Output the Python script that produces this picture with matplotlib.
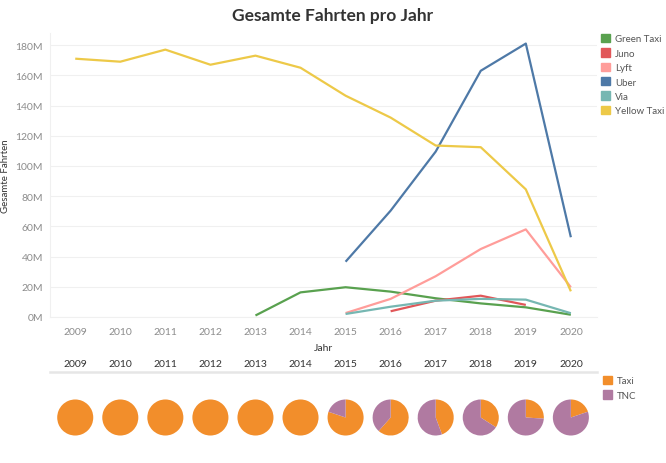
import numpy as np
import matplotlib
matplotlib.use("Agg")
import matplotlib.pyplot as plt
from matplotlib.patches import Patch

plt.rcParams['font.family'] = ['Lato', 'DejaVu Sans']

years = list(range(2009, 2021))
nan = np.nan
# Gesamte Fahrten in Mio.
green_taxi = [nan, nan, nan, nan, 1.0, 16.3, 19.7, 16.8, 12.4, 9.0, 6.4, 1.5]
juno = [nan, nan, nan, nan, nan, nan, nan, 3.8, 10.8, 14.1, 8.0, nan]
lyft = [nan, nan, nan, nan, nan, nan, 2.6, 12.0, 27.0, 45.0, 58.0, 19.7]
uber = [nan, nan, nan, nan, nan, nan, 36.6, 70.4, 109.5, 163.0, 181.0, 52.8]
via = [nan, nan, nan, nan, nan, nan, 2.0, 6.8, 10.8, 12.0, 11.5, 2.5]
yellow_taxi = [171, 169, 177, 167, 173, 165, 146.5, 132, 113.5, 112.4, 84.5, 17.0]

series = ["Green Taxi", "Juno", "Lyft", "Uber", "Via", "Yellow Taxi"]
colors = ["#59a14f", "#e15759", "#ff9d9a", "#4e79a7", "#76b7b2", "#edc948"]
values = [green_taxi, juno, lyft, uber, via, yellow_taxi]

taxi = np.nansum([yellow_taxi, green_taxi], axis=0)
tnc = np.nansum([uber, lyft, via, juno], axis=0)

fig = plt.figure(figsize=(6.66, 4.64), dpi=100)
W, H = 666, 464
x0, x1 = 50, 597
ax = fig.add_axes([x0 / W, 1 - 318 / H, (x1 - x0) / W, (318 - 34) / H])

for name, c, v in zip(series, colors, values):
    ax.plot(years, v, color=c, lw=1.6, label=name, solid_capstyle='butt')

xlim = (2008.44, 2020.58)
ax.set_xlim(*xlim)
ax.set_ylim(0, 188)
ax.set_yticks(range(0, 181, 20))
ax.set_yticklabels([f"{t}M" for t in range(0, 181, 20)])
ax.set_xticks(years)
ax.set_xticklabels([str(y) for y in years])
ax.tick_params(axis='both', length=0, labelsize=7.5, labelcolor='#8c8c8c')
ax.tick_params(axis='x', pad=7)
ax.tick_params(axis='y', pad=5)
ax.grid(axis='y', color='#f0f0f0', lw=0.8)
ax.set_axisbelow(True)
for s in ['top', 'right']:
    ax.spines[s].set_visible(False)
for s in ['left', 'bottom']:
    ax.spines[s].set_color('#f0f0f0')
ax.set_xlabel("Jahr", fontsize=7.5, color='#333333', labelpad=5)
ax.set_ylabel("Gesamte Fahrten", fontsize=7, color='#333333')
ax.yaxis.set_label_coords(-40 / (x1 - x0), 0.5)

fig.text(0.5, 1 - 16 / H, "Gesamte Fahrten pro Jahr", ha='center', va='center',
         fontsize=12.5, fontweight='bold', color='#333333')

handles = [Patch(color=c, label=n) for n, c in zip(series, colors)]
fig.legend(handles=handles, loc='upper left', bbox_to_anchor=(597 / W, 1 - 31 / H),
           frameon=False, fontsize=7, handlelength=0.9, handleheight=0.95,
           handletextpad=0.55, labelspacing=0.5, borderaxespad=0, labelcolor='#555555')

# Kreisdiagramme Taxi vs. TNC
pax = fig.add_axes([x0 / W, 0, (x1 - x0) / W, 91 / H])
r = 0.4
for y, t, n in zip(years, taxi, tnc):
    pax.pie([t, n], colors=["#f28e2b", "#b07aa1"], center=(y, 0), radius=r,
            startangle=90, counterclock=False, frame=True,
            wedgeprops=dict(linewidth=0))
pax.set_xlim(*xlim)
hh = (91 / ((x1 - x0) / (xlim[1] - xlim[0]))) / 2
pax.set_ylim(-hh, hh)
pax.set_aspect('auto')
pax.xaxis.tick_top()
pax.set_xticks(years)
pax.set_xticklabels([str(y) for y in years])
pax.set_yticks([])
pax.tick_params(axis='x', length=0, labelsize=7.5, labelcolor='#333333', pad=3)
for s in ['bottom', 'left', 'right']:
    pax.spines[s].set_visible(False)
pax.spines['top'].set_color('#e6e6e6')
pax.spines['top'].set_linewidth(1.8)

handles2 = [Patch(color="#f28e2b", label="Taxi"), Patch(color="#b07aa1", label="TNC")]
fig.legend(handles=handles2, loc='upper left', bbox_to_anchor=(599 / W, 1 - 373 / H),
           frameon=False, fontsize=7, handlelength=0.9, handleheight=0.95,
           handletextpad=0.55, labelspacing=0.5, borderaxespad=0, labelcolor='#555555')

fig.savefig("out.png", dpi=100)
